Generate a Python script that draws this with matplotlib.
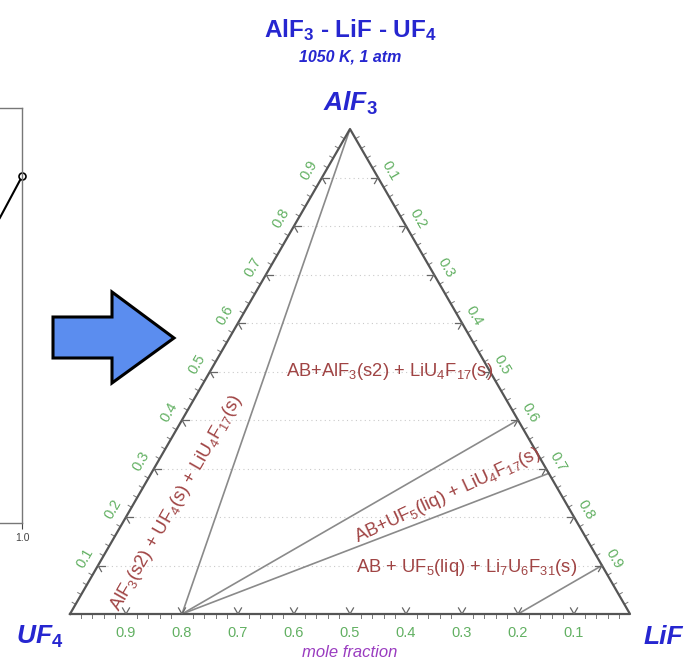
import numpy as np
import matplotlib
matplotlib.use('Agg')
import matplotlib.pyplot as plt
from matplotlib.patches import Polygon

plt.rcParams['font.family'] = ['Liberation Sans', 'DejaVu Sans']
plt.rcParams['mathtext.fontset'] = 'custom'
plt.rcParams['mathtext.rm'] = 'Liberation Sans'
plt.rcParams['mathtext.it'] = 'Liberation Sans:italic'
plt.rcParams['mathtext.bf'] = 'Liberation Sans:bold'

# Tick values along each side of the triangle
tick_values = [0.1, 0.2, 0.3, 0.4, 0.5, 0.6, 0.7, 0.8, 0.9]

# Phase boundaries: AlF3 and LiF mole fractions at both ends of each line
bound_alf3 = [[1.00, 0.00], [0.00, 0.40], [0.00, 0.29], [0.00, 0.10]]
bound_lif = [[0.00, 0.20], [0.20, 0.60], [0.20, 0.71], [0.80, 0.90]]

# Phase field labels (AlF3, LiF) and rotation
region_text = [r'AB+AlF$_3$(s2) + LiU$_4$F$_{17}$(s)',
               r'AlF$_3$(s2) + UF$_4$(s) + LiU$_4$F$_{17}$(s)',
               r'AB+UF$_5$(liq) + LiU$_4$F$_{17}$(s)',
               r'AB + UF$_5$(liq) + Li$_7$U$_6$F$_{31}$(s)']
region_alf3 = [0.50, 0.229, 0.245, 0.095]
region_lif = [0.32, 0.075, 0.552, 0.661]
region_rot = [0, 60, 25, 0]

# Piece of the preceding plot on the left
partial_x = [0.9, 1.0]
partial_y = [0.735, 0.835]

W, H = 696, 663
S3 = np.sqrt(3) / 2


def tern(a, l):
    a = np.asarray(a, dtype=float)
    l = np.asarray(l, dtype=float)
    return l + a / 2, a * S3


fig = plt.figure(figsize=(W / 100, H / 100), dpi=100)

# previous plot, mostly cut off by the left border
axp = fig.add_axes([(22 - 222) / W, (H - 523) / H, 222 / W, 415 / H])
axp.plot(partial_x, partial_y, color='black', lw=1.5)
axp.plot(partial_x[-1], partial_y[-1], 'o', ms=5, mfc='white', mec='black', mew=1.2, clip_on=False)
axp.set_xlim(0, 1)
axp.set_ylim(0, 1)
axp.set_xticks([1.0])
axp.set_xticklabels(['1.0'])
axp.set_yticks([])
axp.tick_params(axis='x', direction='out', length=4, labelsize=7.5, colors='#444444', width=0.8)
for sp in axp.spines.values():
    sp.set_color('#777777')
    sp.set_linewidth(1.0)

# big blue arrow
arrow_px = [(53, 317), (112, 317), (112, 292), (174, 338), (112, 383), (112, 358), (53, 358)]
fig.patches.append(Polygon([(x / W, 1 - y / H) for x, y in arrow_px], closed=True,
                           transform=fig.transFigure, facecolor='#5b8def',
                           edgecolor='black', lw=2.2, joinstyle='miter'))

# ternary diagram
ax = fig.add_axes([70 / W, (H - 614) / H, 560 / W, 485 / H])
ax.set_xlim(0, 1)
ax.set_ylim(0, S3)
ax.axis('off')

# dotted grid at constant AlF3
for v in tick_values:
    x0, y0 = tern(v, 0)
    x1, y1 = tern(v, 1 - v)
    ax.plot([x0, x1], [y0, y1], color='#cacaca', lw=0.8, ls=(0, (1, 3)), zorder=1)

# phase boundaries
for a_pair, l_pair in zip(bound_alf3, bound_lif):
    xs, ys = tern(a_pair, l_pair)
    ax.plot(xs, ys, color='#8a8a8a', lw=1.2, zorder=2)

# outline
tx, ty = tern([0, 1, 0, 0], [0, 0, 1, 0])
ax.plot(tx, ty, color='#555555', lw=1.6, zorder=3, clip_on=False)

green = '#62b062'
maj = 7 / 560
mnr = 4 / 560
for k in range(1, 50):
    v = k / 50
    major = k % 5 == 0
    # bottom edge, UF4 fraction
    bx, by = tern(0, 1 - v)
    # left edge, AlF3 fraction
    lx, ly = tern(v, 0)
    # right edge, LiF fraction
    rx, ry = tern(1 - v, v)
    if major:
        for dx, dy in [(-0.5, S3), (0.5, S3)]:
            ax.plot([bx, bx + dx * maj], [by, by + dy * maj], color='#666666', lw=0.9, zorder=3)
        for dx, dy in [(1, 0), (0.5, -S3)]:
            ax.plot([lx, lx + dx * maj], [ly, ly + dy * maj], color='#666666', lw=0.9, zorder=3)
        for dx, dy in [(-1, 0), (-0.5, -S3)]:
            ax.plot([rx, rx + dx * maj], [ry, ry + dy * maj], color='#666666', lw=0.9, zorder=3)
    else:
        ax.plot([bx, bx], [by, by - mnr], color='#777777', lw=0.7, clip_on=False)
        ax.plot([lx, lx - S3 * mnr], [ly, ly + 0.5 * mnr], color='#777777', lw=0.7, clip_on=False)
        ax.plot([rx, rx + S3 * mnr], [ry, ry + 0.5 * mnr], color='#777777', lw=0.7, clip_on=False)

for v in tick_values:
    bx, by = tern(0, 1 - v)
    ax.text(bx, by - 19 / 560, f'{v:.1f}', color=green, fontsize=10.5,
            ha='center', va='center', clip_on=False)
    lx, ly = tern(v, 0)
    ax.text(lx - 13 / 560, ly + 7.5 / 560, f'{v:.1f}', color=green, fontsize=10.5,
            rotation=60, ha='center', va='center', rotation_mode='anchor', clip_on=False)
    rx, ry = tern(1 - v, v)
    ax.text(rx + 12 / 560, ry + 7 / 560, f'{v:.1f}', color=green, fontsize=10.5,
            rotation=-60, ha='center', va='center', rotation_mode='anchor', clip_on=False)

# phase field labels
for txt, a, l, rot in zip(region_text, region_alf3, region_lif, region_rot):
    x, y = tern(a, l)
    ax.text(x, y, txt, color='#a04444', fontsize=13.2, rotation=rot,
            rotation_mode='anchor', ha='center', va='center', zorder=4)

# vertex labels
blue = '#2626d0'
ax.text(0.5, 0.9125, r'AlF$_\mathbf{3}$', color=blue, fontsize=19, fontweight='bold',
        fontstyle='italic', ha='center', va='center', clip_on=False)
ax.text(-0.054, -0.041, r'UF$_\mathbf{4}$', color=blue, fontsize=19, fontweight='bold',
        fontstyle='italic', ha='center', va='center', clip_on=False)
ax.text(1.059, -0.041, 'LiF', color=blue, fontsize=19, fontweight='bold',
        fontstyle='italic', ha='center', va='center', clip_on=False)
ax.text(0.5, -0.068, 'mole fraction', color='#9a3cc0', fontsize=12,
        fontstyle='italic', ha='center', va='center', clip_on=False)

fig.text(350 / W, 1 - 30 / H, r'AlF$_\mathbf{3}$ - LiF - UF$_\mathbf{4}$', color=blue,
         fontsize=17.5, fontweight='bold', ha='center', va='center')
fig.text(350 / W, 1 - 57 / H, '1050 K, 1 atm', color=blue, fontsize=11.5,
         fontweight='bold', fontstyle='italic', ha='center', va='center')

fig.savefig('out.png', dpi=100)
